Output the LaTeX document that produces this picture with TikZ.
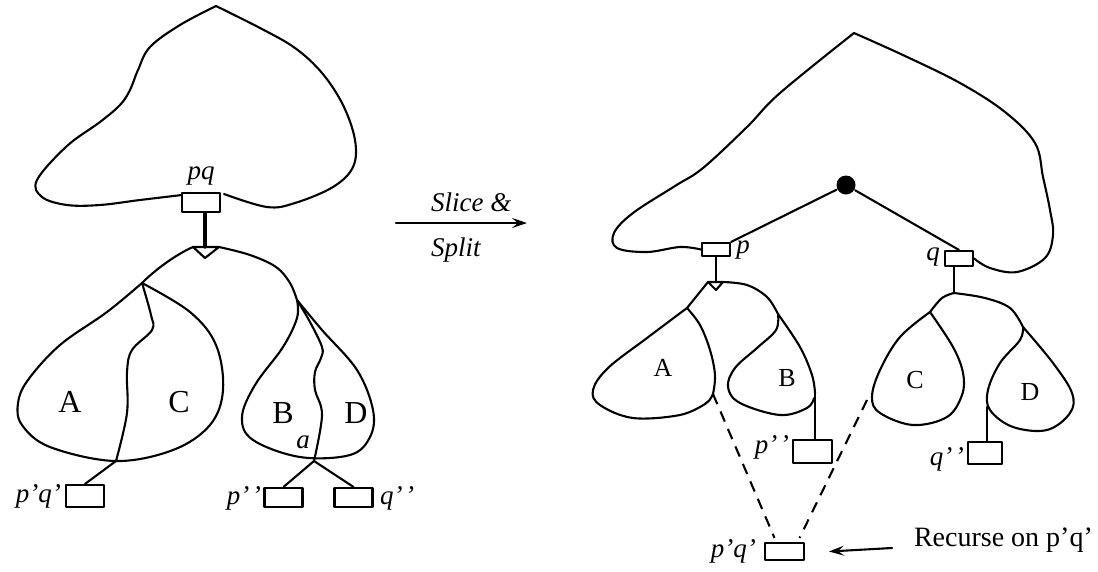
\documentclass[tikz,border=0pt]{standalone}
\usepackage{fontspec}
\setmainfont{Liberation Serif}
\usetikzlibrary{arrows.meta}
\newcommand{\dpr}{'\kern2.5pt'}
\begin{document}
\begin{tikzpicture}[x=1pt,y=-1pt,line width=2.1pt,line join=round,line cap=round,
  it/.style={font=\fontsize{27}{30}\selectfont\itshape,inner sep=0pt},
  bigl/.style={font=\fontsize{32}{34}\selectfont,inner sep=0pt},
  midl/.style={font=\fontsize{26}{28}\selectfont,inner sep=0pt},
  bx/.style={draw,rectangle,inner sep=0pt,minimum width=#1},
  bx/.default=38pt,
  outline/.style={smooth,tension=0.6},
  dsh/.style={dashed,dash pattern=on 11pt off 8pt,line cap=butt}]
\useasboundingbox (0,0) rectangle (1098,571);

% ================= LEFT =================
\node[bx,minimum height=19pt] (pq) at (201,202.5) {};
\node[it] (pqlab) at (201,176) {pq};
\draw plot[outline] coordinates {(182,195) (140,200) (100,205) (67,205) (42,197) (37,180) (67,146) (100,122) (120,105) (130,90) (138,70) (150,47) (180,25) (216,6)};
\draw plot[outline] coordinates {(216,6) (260,28) (295,48) (322,73) (343,105) (355,140) (353,167) (333,187) (295,203) (267,207) (224,194)};
\coordinate (tri) at (205,247);
\draw[line width=3.2pt] (pq.south -| tri) -- (tri);
\draw (193,247) coordinate (tl) -- (219,247) coordinate (tr) -- (205,258) -- cycle;
\coordinate (ac) at (142,283);
\coordinate (bd) at (297,300);
\draw (tl) .. controls (175,255) and (155,270) .. (ac);
\draw plot[outline] coordinates {(tr) (250,255) (276,267) (290,283) (bd)};
% A/C blob
\draw plot[outline] coordinates {(ac) (107,312) (60,345) (28,380) (18,403) (22,425) (50,447) (115,461) (173,450) (210,425) (223,390) (216,345) (190,312) (ac)};
\coordinate (acj) at (116,461);
\draw plot[outline] coordinates {(ac) (151,315) (152,330) (132,350) (127,372) (127,413) (acj)};
\node[bx,minimum height=22pt] (ppqq) at (85,496) {};
\node[it,anchor=east] at (62,496) {p'q'};
\draw (acj) -- (ppqq.north);
\node[bigl] at (70,402) {A};
\node[bigl] at (179,402) {C};
% B/D blob
\draw plot[outline] coordinates {(bd) (297,318) (283,347) (255,385) (242,417) (253,440) (300,457) (350,455) (370,437) (373,410) (357,370) (322,330) (bd)};
\coordinate (bdj) at (314,461);
\draw plot[outline] coordinates {(bd) (310,322) (322,347) (321,358) (315,372) (315,390) (322,415) (bdj)};
\node[it] at (303,442) {a};
\node[bx,minimum height=19pt] (ppp) at (283.5,497.5) {};
\node[bx,minimum height=19pt] (qqq) at (353.5,497.5) {};
\draw (ppp.north) -- (bdj) -- (qqq.north);
\node[it,anchor=east] at (262,498) {p\dpr};
\node[it,anchor=west] at (379,498) {q\dpr};
\node[bigl] at (283,413) {B};
\node[bigl] at (356,413) {D};

% ================= ARROW =================
\coordinate (as) at (396,223);
\coordinate (ae) at (527,223);
\draw[-{Stealth[length=15pt,width=10pt,inset=6pt]}] (as) -- (ae);
\node[it,anchor=west] at (430,202) {Slice \&};
\node[it,anchor=west] at (430,250) {Split};

% ================= RIGHT =================
\node[bx=28pt,minimum height=13pt] (p) at (716,249.5) {};
\node[bx=28pt,minimum height=15pt] (q) at (959,258.5) {};
\node[it] at (743,250) {p};
\node[it] at (933,257) {q};
\node[circle,fill=black,inner sep=0pt,minimum size=19pt] (dot) at (846,185) {};
\draw plot[outline] coordinates {(p.west) (680,247) (647,252) (617,248) (614,233) (633,213) (675,186) (703,168) (747,127) (780,93) (854,33)};
\draw plot[outline] coordinates {(854,33) (905,56) (960,83) (1005,112) (1035,143) (1043,177) (1050,210) (1053,235) (1045,258) (1017,272) (990,268) (q.east)};
\draw (dot) -- (p.north east);
\draw (dot) -- (q.north);
% p subtree
\coordinate (ptri) at (716,282);
\draw (p.south) -- (ptri);
\draw (708,282) coordinate (ptl) -- (723,282) coordinate (ptr) -- (716,290) -- cycle;
\coordinate (atop) at (687,308);
\coordinate (btop) at (778,314);
\draw (ptl) -- (atop);
\draw plot[outline] coordinates {(ptr) (747,285) (767,297) (btop)};
\draw plot[outline] coordinates {(atop) (647,338) (608,368) (593,390) (600,405) (633,418) (680,415) (705,404)};
\coordinate (adash) at (713,394);
\draw plot[outline] coordinates {(atop) (700,325) (710,350) (715,375) (adash)};
\draw (705,404) .. controls (710,400) .. (adash);
\node[midl] at (663,368) {A};
\draw plot[outline] coordinates {(btop) (776,330) (757,348) (735,368) (728,387) (740,403) (780,415) (807,408) (814,398)};
\coordinate (bstem) at (815,393);
\draw plot[outline] coordinates {(btop) (800,347) (812,375) (bstem)};
\node[midl] at (787,378) {B};
\node[bx=39pt,minimum height=23pt] (pp2) at (812.5,451.5) {};
\draw (bstem) -- (bstem |- pp2.north);
\node[it,anchor=east] at (790,447) {p\dpr};
% q subtree
\coordinate (qj) at (954,293);
\draw (q.south -| qj) -- (qj);
\coordinate (ctop) at (930,312);
\coordinate (dtop) at (1023,327);
\draw plot[outline] coordinates {(ctop) (942,298) (qj)};
\draw plot[outline] coordinates {(qj) (985,298) (1010,308) (dtop)};
\draw plot[outline] coordinates {(ctop) (900,337) (880,370) (872,397) (880,413) (913,425) (947,417) (962,395) (963,373) (953,347) (ctop)};
\node[midl] at (915,380) {C};
\coordinate (cdash) at (867,400);
\draw plot[outline] coordinates {(dtop) (1020,340) (1000,363) (988,390) (990,410) (1013,427) (1047,430) (1070,413) (1072,393) (1053,363) (dtop)};
\node[midl] at (1030,392) {D};
\coordinate (dstem) at (987,407);
\node[bx=34pt,minimum height=22pt] (qq2) at (985,453) {};
\draw (dstem) -- (dstem |- qq2.north);
\node[it,anchor=east] at (965,459) {q\dpr};
% p'q'
\node[bx=39pt,minimum height=17pt] (pq2) at (784.5,551.5) {};
\node[it,anchor=east] at (757,551) {p'q'};
\draw[dsh] (adash) -- ([xshift=-10pt,yshift=4pt]pq2.north);
\draw[dsh] (cdash) -- ([xshift=15pt,yshift=4pt]pq2.north);
\coordinate (rs) at (892,548);
\draw[-{Stealth[length=15pt,width=10pt,inset=6pt]}] (rs) -- ([xshift=24pt]pq2.east);
\node[font=\fontsize{28}{30}\selectfont,inner sep=0pt,anchor=west] (rec) at (913,540) {Recurse on p'q'};
\end{tikzpicture}
\end{document}
